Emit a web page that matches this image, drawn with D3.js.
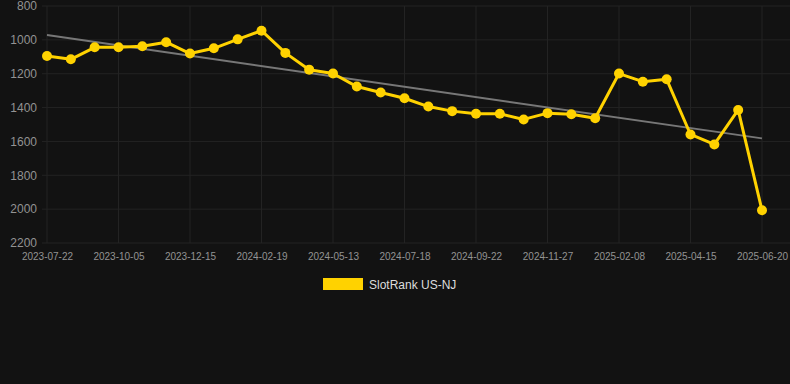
<!DOCTYPE html>
<html>
<head>
<meta charset="utf-8">
<script src="https://cdn.jsdelivr.net/npm/d3@7"></script>
<style>
  html, body { margin: 0; padding: 0; background: #121212; }
  svg { display: block; font-family: "Liberation Sans", Arial, sans-serif; }
</style>
</head>
<body>
<svg id="chart"></svg>
<script>
// Data
const tickLabels = ["2023-07-22", "2023-10-05", "2023-12-15", "2024-02-19", "2024-05-13",
  "2024-07-18", "2024-09-22", "2024-11-27", "2025-02-08", "2025-04-15", "2025-06-20"];
const rankValues = [1095, 1115, 1044, 1044, 1038, 1014, 1081, 1050, 997, 946,
  1077, 1176, 1199, 1276, 1311, 1345, 1394, 1421, 1437, 1437,
  1470, 1433, 1439, 1463, 1199, 1247, 1233, 1559, 1618, 1414, 2007];
const yTicks = [800, 1000, 1200, 1400, 1600, 1800, 2000, 2200];
const seriesName = "SlotRank US-NJ";

// Configurations
let width = 790
let height = 384
let plotLeft = 42 // left edge of grid
let plotRight = 790
let xRange = [47, 762]
let yRange = [6, 243]
let lineColor = "#ffd200"
let trendColor = "#777777"
let gridColor = "#232323"
let textColor = "#939393"

const idx = d3.range(rankValues.length);
const xScale = d3.scaleLinear([0, rankValues.length - 1], xRange);
const yScale = d3.scaleLinear([800, 2200], yRange);
const tickIdx = tickLabels.map((d, i) => i * 3);

// least squares trend line
const mx = d3.mean(idx), my = d3.mean(rankValues);
const slope = d3.sum(idx, i => (i - mx) * (rankValues[i] - my)) / d3.sum(idx, i => (i - mx) ** 2);
const trend = i => my + slope * (i - mx);

const svg = d3.select("#chart")
    .attr("width", width)
    .attr("height", height)
    .attr("viewBox", [0, 0, width, height]);

svg.append("rect").attr("width", width).attr("height", height).attr("fill", "#121212");

// grid
svg.append("g")
    .selectAll("line")
    .data(yTicks)
    .join("line")
    .attr("x1", plotLeft).attr("x2", plotRight)
    .attr("y1", d => yScale(d)).attr("y2", d => yScale(d))
    .attr("stroke", gridColor).attr("stroke-width", 1);

svg.append("g")
    .selectAll("line")
    .data(tickIdx)
    .join("line")
    .attr("x1", d => xScale(d)).attr("x2", d => xScale(d))
    .attr("y1", yRange[0]).attr("y2", yRange[1])
    .attr("stroke", gridColor).attr("stroke-width", 1);

// y axis
const yAxis = d3.axisLeft(yScale).tickValues(yTicks).tickFormat(d3.format("d")).tickSize(0).tickPadding(0);
svg.append("g")
    .attr("transform", `translate(37,0)`)
    .call(yAxis)
    .call(g => g.select(".domain").remove())
    .call(g => g.selectAll("text")
        .attr("fill", textColor)
        .attr("font-size", 12)
        .attr("font-family", "Liberation Sans, Arial, sans-serif"));

// x axis
const xAxis = d3.axisBottom(xScale).tickValues(tickIdx).tickFormat((d, i) => tickLabels[i]).tickSize(0).tickPadding(0);
svg.append("g")
    .attr("transform", `translate(0,253)`)
    .call(xAxis)
    .call(g => g.select(".domain").remove())
    .call(g => g.selectAll("text")
        .attr("fill", textColor)
        .attr("font-size", 10)
        .attr("font-family", "Liberation Sans, Arial, sans-serif"));

// trend line
svg.append("line")
    .attr("x1", xScale(0)).attr("y1", yScale(trend(0)))
    .attr("x2", xScale(idx.length - 1)).attr("y2", yScale(trend(idx.length - 1)))
    .attr("stroke", trendColor).attr("stroke-width", 2);

// series line
svg.append("path")
    .datum(idx)
    .attr("fill", "none")
    .attr("stroke", lineColor)
    .attr("stroke-width", 3)
    .attr("stroke-linejoin", "round")
    .attr("d", d3.line().x(i => xScale(i)).y(i => yScale(rankValues[i])));

svg.append("g")
    .selectAll("circle")
    .data(idx)
    .join("circle")
    .attr("cx", i => xScale(i))
    .attr("cy", i => yScale(rankValues[i]))
    .attr("r", 5)
    .attr("fill", lineColor);

// legend
const legend = svg.append("g").attr("transform", "translate(323,278)");
legend.append("rect").attr("width", 40).attr("height", 12).attr("fill", lineColor);
legend.append("text")
    .attr("x", 46).attr("y", 10.5)
    .attr("fill", "#dddddd")
    .attr("font-size", 12)
    .text(seriesName);
</script>
</body>
</html>
